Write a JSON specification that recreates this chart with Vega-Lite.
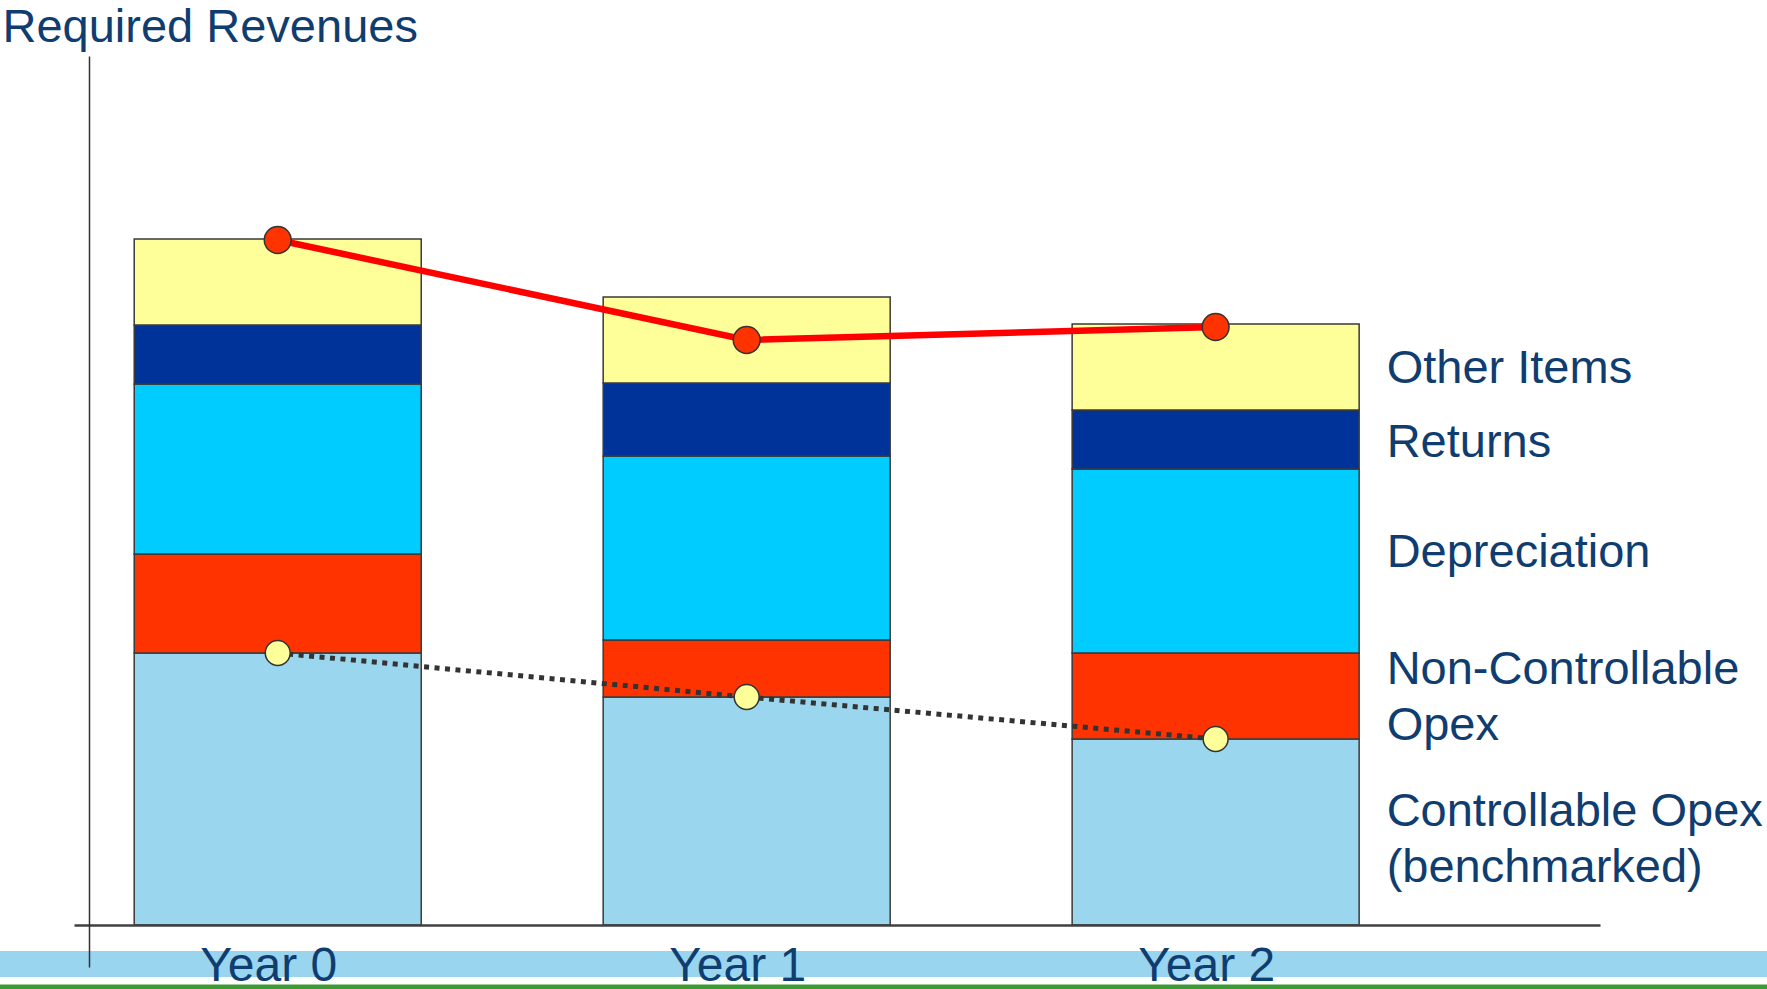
{
  "$schema": "https://vega.github.io/schema/vega-lite/v6.json",
  "width": 1767,
  "height": 989,
  "autosize": {"type": "none"},
  "padding": 0,
  "background": "white",
  "config": {"view": {"stroke": null}, "font": "Liberation Sans"},
  "datasets": {
    "costs": [
      {"year": "Year 0", "item": "Controllable Opex", "seg": 1, "value": 27.2},
      {"year": "Year 0", "item": "Non-Controllable Opex", "seg": 2, "value": 9.9},
      {"year": "Year 0", "item": "Depreciation", "seg": 3, "value": 17.0},
      {"year": "Year 0", "item": "Returns", "seg": 4, "value": 5.9},
      {"year": "Year 0", "item": "Other Items", "seg": 5, "value": 8.6},
      {"year": "Year 1", "item": "Controllable Opex", "seg": 1, "value": 22.8},
      {"year": "Year 1", "item": "Non-Controllable Opex", "seg": 2, "value": 5.7},
      {"year": "Year 1", "item": "Depreciation", "seg": 3, "value": 18.4},
      {"year": "Year 1", "item": "Returns", "seg": 4, "value": 7.3},
      {"year": "Year 1", "item": "Other Items", "seg": 5, "value": 8.6},
      {"year": "Year 2", "item": "Controllable Opex", "seg": 1, "value": 18.6},
      {"year": "Year 2", "item": "Non-Controllable Opex", "seg": 2, "value": 8.6},
      {"year": "Year 2", "item": "Depreciation", "seg": 3, "value": 18.4},
      {"year": "Year 2", "item": "Returns", "seg": 4, "value": 5.9},
      {"year": "Year 2", "item": "Other Items", "seg": 5, "value": 8.6}
    ],
    "lines": [
      {"year": "Year 0", "series": "Revenue", "value": 68.5},
      {"year": "Year 1", "series": "Revenue", "value": 58.5},
      {"year": "Year 2", "series": "Revenue", "value": 59.8},
      {"year": "Year 0", "series": "Controllable", "value": 27.2},
      {"year": "Year 1", "series": "Controllable", "value": 22.8},
      {"year": "Year 2", "series": "Controllable", "value": 18.6}
    ],
    "labels": [
      {"label": ["Other Items"], "pos": 54.2},
      {"label": ["Returns"], "pos": 46.8},
      {"label": [" Depreciation"], "pos": 35.8},
      {"label": ["Non-Controllable", "Opex"], "pos": 24.1},
      {"label": ["Controllable Opex", "(benchmarked)"], "pos": 9.9}
    ]
  },
  "layer": [
    {
      "data": {"values": [{"k": "strip"}]},
      "mark": {"type": "rule", "color": "#99d5ef", "strokeWidth": 26},
      "encoding": {"y": {"datum": -3.9, "type": "quantitative"}}
    },
    {
      "data": {"values": [{"k": "green"}]},
      "mark": {"type": "rule", "color": "#3d9a35", "strokeWidth": 5},
      "encoding": {"y": {"datum": -6.2, "type": "quantitative"}}
    },
    {
      "data": {"name": "costs"},
      "mark": {"type": "bar", "stroke": "#3a3a3a", "strokeWidth": 1.5},
      "encoding": {
        "x": {
          "field": "year", "type": "nominal",
          "scale": {"range": [74, 1600], "paddingInner": 0.388, "paddingOuter": 0.321, "align": 0.2},
          "axis": {
            "title": null, "orient": "bottom", "offset": -64, "domain": true,
            "domainColor": "#404040", "domainWidth": 2.5, "ticks": false, "tickSize": 0,
            "labelPadding": 55, "labelBaseline": "alphabetic", "labelFontSize": 48,
            "labelOffset": -9,
            "labelColor": "#103d70", "labelFont": "Liberation Sans", "labelAngle": 0,
            "grid": false, "zindex": 1
          }
        },
        "y": {
          "field": "value", "type": "quantitative", "stack": "zero",
          "scale": {"domain": [-4.2, 86.9], "range": [967, 56], "nice": false, "zero": false},
          "axis": {
            "title": "Required Revenues", "orient": "left", "offset": -89, "domain": true,
            "domainColor": "#333333", "domainWidth": 1.5, "ticks": false, "labels": false,
            "grid": false, "titleAngle": 0, "titleAlign": "left", "titleBaseline": "alphabetic",
            "titleX": -87, "titleY": 41, "titleFontSize": 47, "titleFontWeight": "normal",
            "titleColor": "#103d70", "titleFont": "Liberation Sans", "zindex": 1
          }
        },
        "color": {
          "field": "item", "type": "nominal",
          "scale": {
            "domain": ["Controllable Opex", "Non-Controllable Opex", "Depreciation", "Returns", "Other Items"],
            "range": ["#9bd6ef", "#ff3300", "#00ccff", "#003399", "#ffff99"]
          },
          "legend": null
        },
        "order": {"field": "seg", "type": "quantitative"}
      }
    },
    {
      "data": {"name": "lines"},
      "transform": [{"filter": "datum.series == 'Controllable'"}],
      "mark": {"type": "line", "color": "#333333", "strokeWidth": 5, "strokeDash": [5, 5.5], "strokeCap": "butt"},
      "encoding": {
        "x": {"field": "year", "type": "nominal"},
        "y": {"field": "value", "type": "quantitative"}
      }
    },
    {
      "data": {"name": "lines"},
      "transform": [{"filter": "datum.series == 'Controllable'"}],
      "mark": {"type": "point", "filled": true, "fill": "#ffff99", "stroke": "#333333", "strokeWidth": 1.5, "size": 620, "opacity": 1},
      "encoding": {
        "x": {"field": "year", "type": "nominal"},
        "y": {"field": "value", "type": "quantitative"}
      }
    },
    {
      "data": {"name": "lines"},
      "transform": [{"filter": "datum.series == 'Revenue'"}],
      "mark": {"type": "line", "color": "#ff0000", "strokeWidth": 6.5},
      "encoding": {
        "x": {"field": "year", "type": "nominal"},
        "y": {"field": "value", "type": "quantitative"}
      }
    },
    {
      "data": {"name": "lines"},
      "transform": [{"filter": "datum.series == 'Revenue'"}],
      "mark": {"type": "point", "filled": true, "fill": "#ff3300", "stroke": "#333333", "strokeWidth": 1.5, "size": 720, "opacity": 1},
      "encoding": {
        "x": {"field": "year", "type": "nominal"},
        "y": {"field": "value", "type": "quantitative"}
      }
    },
    {
      "data": {"name": "labels"},
      "mark": {"type": "text", "align": "left", "baseline": "alphabetic", "dx": 171, "fontSize": 47, "color": "#103d70", "font": "Liberation Sans", "lineHeight": 56},
      "encoding": {
        "x": {"datum": "Year 2", "type": "nominal"},
        "y": {"field": "pos", "type": "quantitative"},
        "text": {"field": "label"}
      }
    }
  ]
}
